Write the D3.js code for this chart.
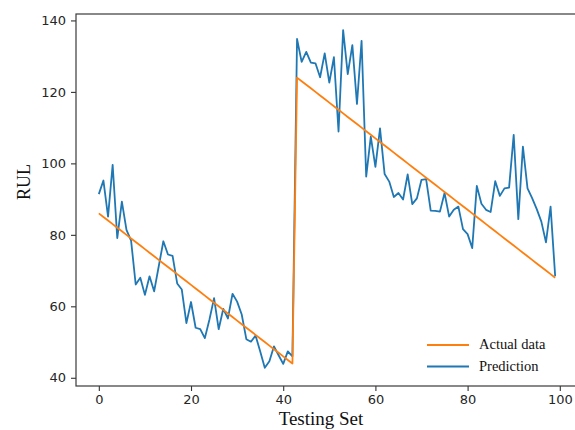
<!DOCTYPE html>
<html>
<head>
<meta charset="utf-8">
<script src="https://cdn.jsdelivr.net/npm/d3@7"></script>
<style>
  html, body { margin: 0; padding: 0; background: #fff; }
  svg { display: block; }
</style>
</head>
<body>
<svg id="chart" width="575" height="430"></svg>
<script>
// RUL of the test units: true value and model prediction per sample
const actual = [
  86, 85, 84, 83, 82, 81, 80, 79, 78, 77,
  76, 75, 74, 73, 72, 71, 70, 69, 68, 67,
  66, 65, 64, 63, 62, 61, 60, 59, 58, 57,
  56, 55, 54, 53, 52, 51, 50, 49, 48, 47,
  46, 45, 44, 124, 123, 122, 121, 120, 119, 118,
  117, 116, 115, 114, 113, 112, 111, 110, 109, 108,
  107, 106, 105, 104, 103, 102, 101, 100, 99, 98,
  97, 96, 95, 94, 93, 92, 91, 90, 89, 88,
  87, 86, 85, 84, 83, 82, 81, 80, 79, 78,
  77, 76, 75, 74, 73, 72, 71, 70, 69, 68
];
const prediction = [
  91.4, 95.2, 85.1, 99.6, 79.1, 89.3, 81.4, 78.4, 66.1, 68.0,
  63.2, 68.4, 64.2, 71.2, 78.2, 74.5, 74.1, 66.4, 64.7, 55.3,
  61.2, 54.0, 53.6, 51.1, 56.3, 62.3, 53.6, 59.3, 56.6, 63.5,
  61.3, 57.7, 50.8, 50.1, 51.8, 47.4, 42.8, 44.6, 48.8, 46.3,
  43.9, 47.4, 46.0, 134.8, 128.4, 131.2, 128.2, 128.0, 124.1, 130.8,
  122.6, 129.7, 108.9, 137.3, 125.0, 133.1, 116.6, 134.3, 96.3, 107.5,
  99.0, 109.8, 97.0, 94.9, 90.6, 91.7, 89.9, 96.9, 88.6, 90.2,
  95.4, 95.6, 86.8, 86.7, 86.5, 91.7, 85.1, 87.0, 87.9, 81.6,
  80.2, 76.3, 93.7, 88.7, 87.0, 86.4, 95.0, 90.9, 93.0, 93.2,
  108.0, 84.4, 104.7, 93.0, 90.3, 87.2, 83.7, 77.9, 87.9, 68.4
];
const xTicks = [0, 20, 40, 60, 80, 100];
const yTicks = [40, 60, 80, 100, 120, 140];
const seriesNames = ["Actual data", "Prediction"];
const colors = { actual: "#ff7f0e", prediction: "#1f77b4" };

const svg = d3.select("#chart");
const plot = { left: 76, right: 578, top: 14, bottom: 386 };

const x = d3.scaleLinear().domain([-4.95, 103.95]).range([plot.left, plot.right]);
const y = d3.scaleLinear().domain([37.7, 141.8]).range([plot.bottom, plot.top]);

const tickFont = "DejaVu Sans, sans-serif";
const serif = "Liberation Serif, Times New Roman, serif";

// axes
const xAxis = svg.append("g")
  .attr("transform", `translate(0,${plot.bottom})`)
  .call(d3.axisBottom(x).tickValues(xTicks).tickSize(5).tickPadding(4).tickSizeOuter(0));
const yAxis = svg.append("g")
  .attr("transform", `translate(${plot.left},0)`)
  .call(d3.axisLeft(y).tickValues(yTicks).tickSize(5).tickPadding(5).tickSizeOuter(0));

[xAxis, yAxis].forEach(g => {
  g.select(".domain").remove();
  g.selectAll(".tick line").attr("stroke", "#333").attr("stroke-width", 1.1);
  g.selectAll(".tick text")
    .attr("fill", "#262626")
    .style("font-family", tickFont)
    .style("font-size", "13px");
});

// frame
svg.append("rect")
  .attr("x", plot.left).attr("y", plot.top)
  .attr("width", plot.right - plot.left).attr("height", plot.bottom - plot.top)
  .attr("fill", "none").attr("stroke", "#3a3a3a").attr("stroke-width", 1.2);

const line = d3.line().x((d, i) => x(i)).y(d => y(d));

svg.append("path")
  .datum(prediction)
  .attr("d", line)
  .attr("fill", "none")
  .attr("stroke", colors.prediction)
  .attr("stroke-width", 1.8)
  .attr("stroke-linejoin", "round");

svg.append("path")
  .datum(actual)
  .attr("d", line)
  .attr("fill", "none")
  .attr("stroke", colors.actual)
  .attr("stroke-width", 1.8)
  .attr("stroke-linejoin", "round");

// axis titles
svg.append("text")
  .attr("x", 321).attr("y", 425)
  .attr("text-anchor", "middle")
  .style("font-family", serif).style("font-size", "19px")
  .attr("fill", "#111")
  .text("Testing Set");

svg.append("text")
  .attr("transform", "translate(30,182) rotate(-90)")
  .attr("text-anchor", "middle")
  .style("font-family", serif).style("font-size", "18px")
  .attr("fill", "#111")
  .text("RUL");

// legend
const legend = svg.append("g");
const legendRows = [
  { name: seriesNames[0], color: colors.actual, cy: 345 },
  { name: seriesNames[1], color: colors.prediction, cy: 366.5 }
];
legendRows.forEach(r => {
  legend.append("line")
    .attr("x1", 427).attr("x2", 469).attr("y1", r.cy).attr("y2", r.cy)
    .attr("stroke", r.color).attr("stroke-width", 1.8);
  legend.append("text")
    .attr("x", 479).attr("y", r.cy + 1)
    .attr("dominant-baseline", "middle")
    .style("font-family", serif).style("font-size", "14.5px")
    .attr("fill", "#111")
    .text(r.name);
});
</script>
</body>
</html>
